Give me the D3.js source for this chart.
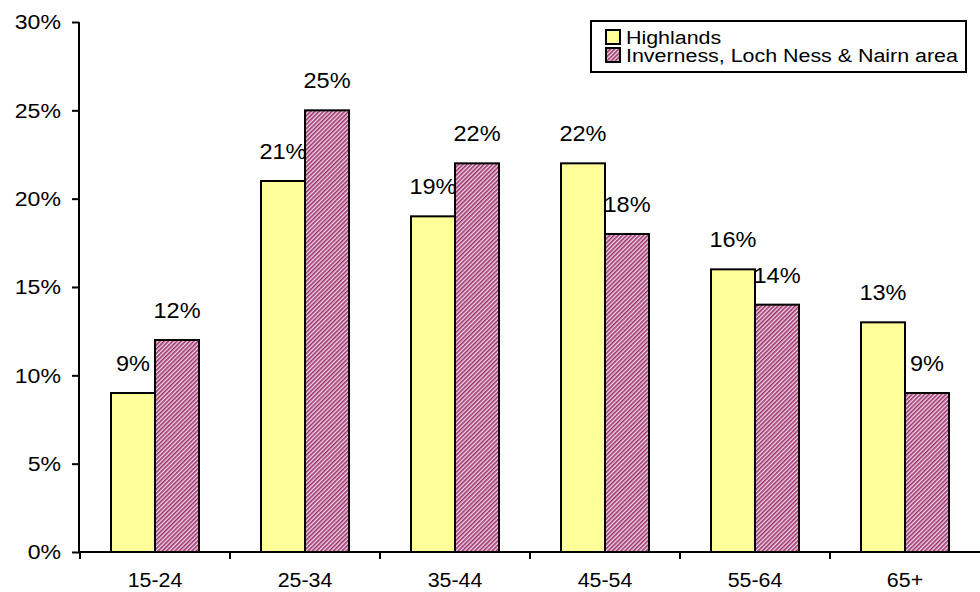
<!DOCTYPE html>
<html>
<head>
<meta charset="utf-8">
<script src="https://cdn.jsdelivr.net/npm/d3@7"></script>
<style>
  html, body { margin: 0; padding: 0; background: #fff; }
  svg { display: block; font-family: "Liberation Sans", Arial, sans-serif; }
</style>
</head>
<body>
<svg id="chart" width="980" height="592"></svg>
<script>
// Age bands and the share of population in each
const categories = ["15-24", "25-34", "35-44", "45-54", "55-64", "65+"];
const seriesNames = ["Highlands", "Inverness, Loch Ness & Nairn area"];
const highlands = [9, 21, 19, 22, 16, 13];
const inverness = [12, 25, 22, 18, 14, 9];
const yTicks = [0, 5, 10, 15, 20, 25, 30];

const seriesValues = [highlands, inverness];
const svg = d3.select("#chart");

// Slightly widened text, placed at (x, y)
function wideText(sel, x, y, sx) {
  return sel.attr("x", 0).attr("y", 0)
    .attr("transform", `translate(${x},${y}) scale(${sx},1)`);
}

// Hatched fill for the second series
const defs = svg.append("defs");
const pat = defs.append("pattern")
  .attr("id", "hatch")
  .attr("patternUnits", "userSpaceOnUse")
  .attr("width", 3).attr("height", 3)
  .attr("patternTransform", "rotate(45)");
pat.append("rect").attr("width", 3).attr("height", 3).attr("fill", "#f4d6ec");
pat.append("rect").attr("width", 1.6).attr("height", 3).attr("fill", "#993366");

const fills = ["#ffff99", "url(#hatch)"];

const plotLeft = 80, plotRight = 980, plotTop = 22, plotBottom = 552;

const x0 = d3.scaleBand().domain(categories).range([plotLeft, plotRight]).padding(0);
const x1 = d3.scaleBand().domain(seriesNames)
  .range([0, x0.bandwidth()]).paddingInner(0).paddingOuter(0.7045);
const y = d3.scaleLinear().domain([0, 30]).range([plotBottom, plotTop]);

// Value labels sit beneath the bars so the neighbouring bar can cover them
const labelLayer = svg.append("g");

// Y axis
const yAxis = svg.append("g")
  .attr("transform", `translate(${plotLeft - 1},0)`)
  .call(d3.axisLeft(y).tickValues(yTicks).tickFormat(d => d + "%").tickSize(7).tickPadding(11));
yAxis.select(".domain").attr("stroke", "#000").attr("stroke-width", 2)
  .attr("d", `M0,${plotTop}V${plotBottom}`);
yAxis.selectAll(".tick line").attr("stroke", "#000").attr("stroke-width", 2);
yAxis.selectAll(".tick text")
  .attr("font-size", 21).attr("fill", "#000")
  .attr("font-family", "'Liberation Sans', Arial, sans-serif")
  .each(function() { wideText(d3.select(this), -18, 0, 1.1).attr("dy", "0.32em"); });

// Bars
const groups = svg.append("g").selectAll("g")
  .data(categories)
  .join("g")
  .attr("transform", d => `translate(${x0(d)},0)`);

seriesNames.forEach((name, si) => {
  groups.append("rect")
    .attr("x", x1(name))
    .attr("y", (d, i) => y(seriesValues[si][i]))
    .attr("width", x1.bandwidth())
    .attr("height", (d, i) => y(0) - y(seriesValues[si][i]))
    .attr("fill", fills[si])
    .attr("stroke", "#000")
    .attr("stroke-width", 2);
});

seriesNames.forEach((name, si) => {
  categories.forEach((c, i) => {
    const v = seriesValues[si][i];
    labelLayer.append("text")
      .attr("text-anchor", "middle")
      .attr("font-size", 22)
      .attr("fill", "#000")
      .text(v + "%")
      .call(wideText, x0(c) + x1(name) + x1.bandwidth() / 2, y(v) - 22, 1.07);
  });
});

// X axis
const xAxis = svg.append("g").attr("transform", `translate(0,${plotBottom})`);
xAxis.append("line")
  .attr("x1", plotLeft - 1).attr("x2", plotRight)
  .attr("y1", 0).attr("y2", 0)
  .attr("stroke", "#000").attr("stroke-width", 2);
xAxis.selectAll("line.tick")
  .data(categories)
  .join("line")
  .attr("class", "tick")
  .attr("x1", d => x0(d)).attr("x2", d => x0(d))
  .attr("y1", 0).attr("y2", 7)
  .attr("stroke", "#000").attr("stroke-width", 2);
xAxis.selectAll("text")
  .data(categories)
  .join("text")
  .attr("text-anchor", "middle")
  .attr("font-size", 20)
  .attr("fill", "#000")
  .text(d => d)
  .each(function(d) { wideText(d3.select(this), x0(d) + x0.bandwidth() / 2, 35, 1.07); });

// Legend
const legend = svg.append("g").attr("transform", "translate(591,21)");
legend.append("rect")
  .attr("width", 375).attr("height", 51)
  .attr("fill", "#fff").attr("stroke", "#000").attr("stroke-width", 2);
seriesNames.forEach((name, si) => {
  const row = legend.append("g").attr("transform", `translate(15,${9 + si * 18})`);
  row.append("rect")
    .attr("width", 14).attr("height", 14)
    .attr("fill", fills[si]).attr("stroke", "#000").attr("stroke-width", 2);
  row.append("text")
    .attr("font-size", 18)
    .attr("fill", "#000")
    .text(name)
    .call(wideText, 20, 14, 1.19);
});
</script>
</body>
</html>
